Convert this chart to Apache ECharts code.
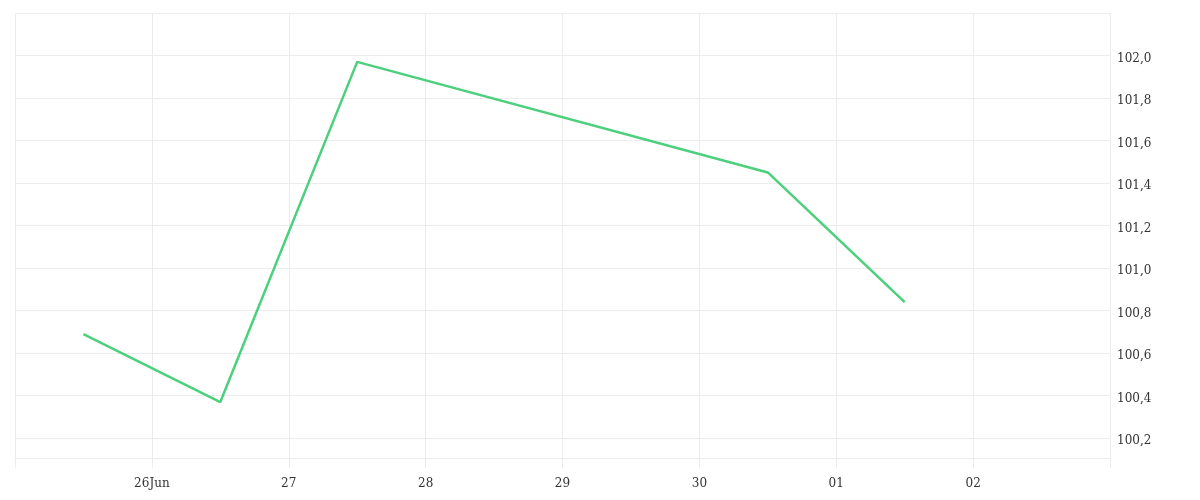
<!DOCTYPE html>
<html>
<head>
<meta charset="utf-8">
<script src="https://cdn.jsdelivr.net/npm/echarts@6/dist/echarts.min.js"></script>
<style>html,body{margin:0;padding:0;background:#fff}#c{width:1200px;height:500px}</style>
</head>
<body>
<div id="c"></div>
<script>
// x positions are days since 25 Jun 00:00
const xTickLabels = ['', '26Jun', '27', '28', '29', '30', '01', '02', ''];
const pointDays = [0.5, 1.5, 2.5, 5.5, 6.5];
const values = [100.69, 100.37, 101.97, 101.45, 100.84];

const data = pointDays.map((d, i) => [d, values[i]]);
const chart = echarts.init(document.getElementById('c'), null, {renderer: 'canvas'});
const font = 'DejaVu Serif';
chart.setOption({
  animation: false,
  grid: {left: 15, right: 90, top: 13, bottom: 42},
  xAxis: {
    type: 'value', min: 0, max: 8, interval: 1,
    axisLine: {show: true, lineStyle: {color: '#ececec', width: 1}},
    axisTick: {show: true, length: 10, lineStyle: {color: '#ececec'}},
    splitLine: {show: true, lineStyle: {color: '#ececec'}},
    axisLabel: {
      margin: 20, color: '#333', fontFamily: font, fontSize: 12,
      formatter: v => xTickLabels[Math.round(v)] || ''
    }
  },
  yAxis: {
    type: 'value', position: 'right', min: 100.107, max: 102.2, splitNumber: 10,
    axisLine: {show: false}, axisTick: {show: false},
    splitLine: {show: true, lineStyle: {color: '#ececec'}},
    axisLabel: {
      margin: 7, color: '#333', fontFamily: font, fontSize: 12,
      showMinLabel: false, showMaxLabel: false,
      rich: {a: {color: '#333', fontFamily: font, fontSize: 12, padding: [6, 0, 0, 0]}},
      formatter: v => {
        const r = Math.round(v * 10) / 10;
        if (Math.abs(r - v) > 1e-6) return '';
        return '{a|' + r.toFixed(1).replace('.', ',') + '}';
      }
    }
  },
  series: [{
    type: 'line', data: data, showSymbol: false, symbol: 'none',
    lineStyle: {color: '#4cd07d', width: 2.5},
    itemStyle: {color: '#4cd07d'}
  }]
});
</script>
</body>
</html>
